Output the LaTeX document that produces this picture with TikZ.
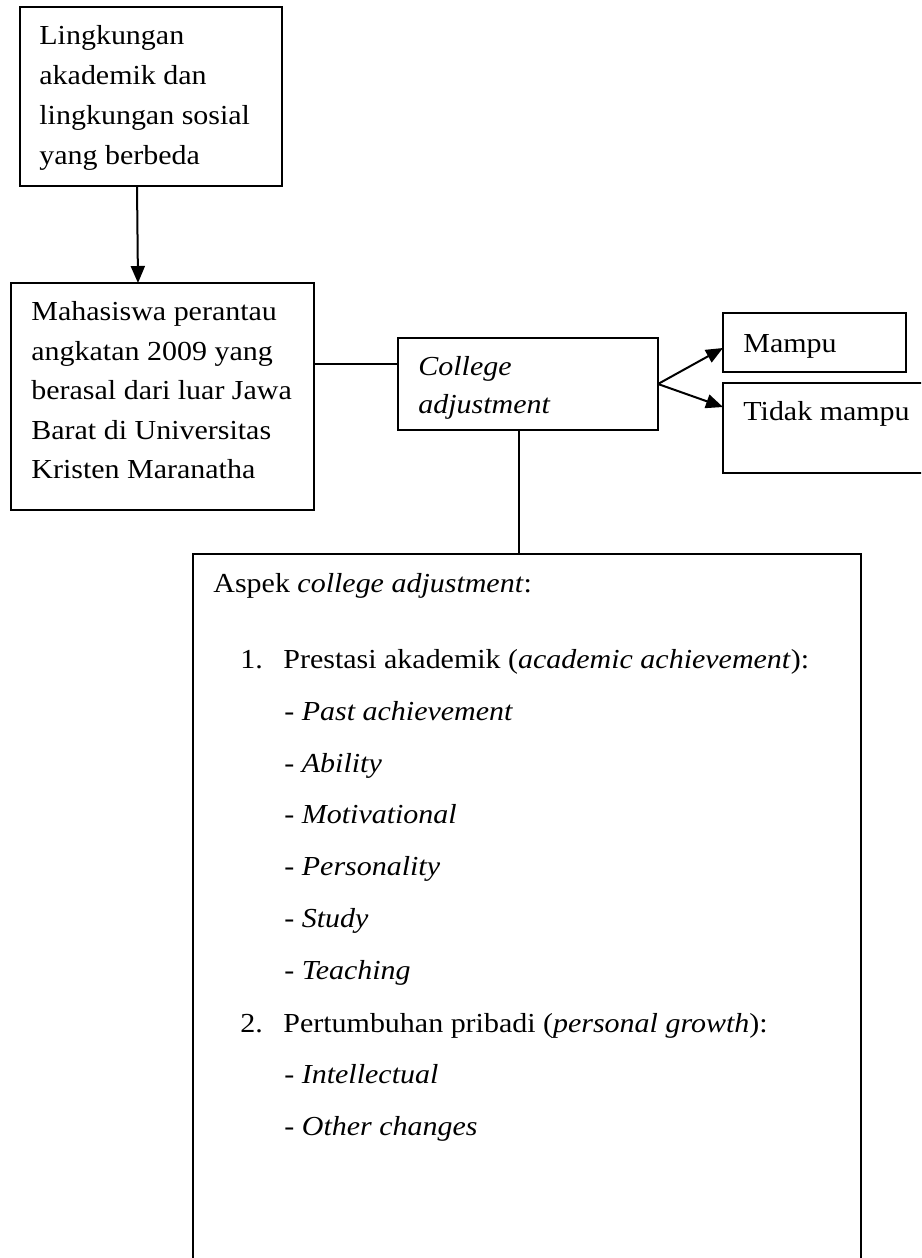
\documentclass[tikz,border=0pt]{standalone}
\usepackage{fontspec}
\setmainfont{Liberation Serif}[FakeStretch=1.09]
\usetikzlibrary{arrows.meta,fit}
\begin{document}
\begin{tikzpicture}[x=0.5pt,y=-0.5pt,
  box/.style={draw, line width=1pt, inner sep=0pt, outer sep=0pt},
  txt/.style={anchor=base west, inner sep=0pt, font=\fontsize{13.75pt}{16pt}\selectfont},
  arr/.style={line width=1pt, -{Triangle[length=8.5pt,width=7pt]}},
  con/.style={line width=1pt}]
\useasboundingbox (0,0) rectangle (921,1258);
\clip (0,0) rectangle (921,1258);
\fill[white] (0,0) rectangle (921,1258);
% boxes
\node[box, fit={(20,7) (282,186)}] (b1) {};
\node[box, fit={(11,283) (314,510)}] (b2) {};
\node[box, fit={(398,338) (658,430)}] (col) {};
\node[box, fit={(723,313) (906,372)}] (mampu) {};
\node[box, fit={(723,383) (940,473)}] (tidak) {};
\node[box, fit={(193,554) (861,1290)}] (big) {};
% texts box 1
\node[txt] (t11) at (39,44) {Lingkungan};
\node[txt] (t12) at (39,84) {akademik dan};
\node[txt] (t13) at (39,124) {lingkungan sosial};
\node[txt] (t14) at (39,164) {yang berbeda};
% texts box 2
\node[txt] (t21) at (31,320) {Mahasiswa perantau};
\node[txt] (t22) at (31,360) {angkatan 2009 yang};
\node[txt] (t23) at (31,399) {berasal dari luar Jawa};
\node[txt] (t24) at (31,439) {Barat di Universitas};
\node[txt] (t25) at (31,478) {Kristen Maranatha};
% college
\node[txt] (tc1) at (418,375) {\textit{College}};
\node[txt] (tc2) at (418,413) {\textit{adjustment}};
% outcomes
\node[txt] (tm) at (743,352) {Mampu};
\node[txt] (tt) at (743,420) {Tidak mampu};
% big box
\node[txt] (ta) at (213,592) {Aspek \textit{college adjustment}:};
\node[txt] (n1) at (240,668) {1.};
\node[txt] (p1) at (283,668) {Prestasi akademik (\textit{academic achievement}):};
\node[txt] (d1) at (284,720) {- \textit{Past achievement}};
\node[txt] (d2) at (284,772) {- \textit{Ability}};
\node[txt] (d3) at (284,823) {- \textit{Motivational}};
\node[txt] (d4) at (284,875) {- \textit{Personality}};
\node[txt] (d5) at (284,927) {- \textit{Study}};
\node[txt] (d6) at (284,979) {- \textit{Teaching}};
\node[txt] (n2) at (240,1032) {2.};
\node[txt] (p2) at (283,1032) {Pertumbuhan pribadi (\textit{personal growth}):};
\node[txt] (d7) at (284,1083) {- \textit{Intellectual}};
\node[txt] (d8) at (284,1135) {- \textit{Other changes}};
% connectors
\draw[arr] ([xshift=-7pt]b1.south) -- ([xshift=-12.25pt]b2.north);
\coordinate (cw) at ([yshift=10pt]col.west);
\draw[con] (cw -| b2.east) -- (cw);
\draw[arr] (col.east) -- ([yshift=-2.75pt]mampu.west);
\draw[arr] (col.east) -- ([yshift=10.5pt]tidak.west);
\coordinate (cs) at ([xshift=-4.5pt]col.south);
\draw[con] (cs) -- (cs |- big.north);
\end{tikzpicture}
\end{document}
